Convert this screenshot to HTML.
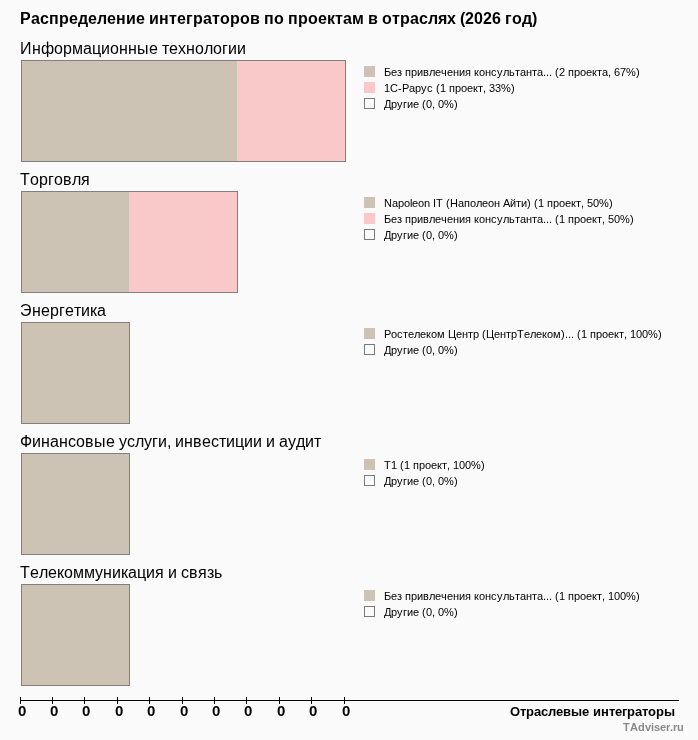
<!DOCTYPE html>
<html><head><meta charset="utf-8"><style>
html,body{margin:0;padding:0;background:#fafafa;width:698px;height:740px;overflow:hidden}
svg{display:block;will-change:transform}
text{font-family:"Liberation Sans",sans-serif}
.b{font-weight:bold}
</style></head><body>
<svg width="698" height="740" viewBox="0 0 698 740" shape-rendering="crispEdges">
<rect width="698" height="740" fill="#fafafa"/>
<text class="b" x="20 31 40 49 59 69 78 88 97 107 116 126 136 145 149 159 169 177 186 193 203 212 220 230 240 250 260 264 274 284 288 298 308 318 327 335 343 352 364 368 378 382 392 400 410 419 428 438 447 456 460 465 474 483 492 501 505 512 522 532" y="24" font-size="16" fill="#000">Распределение интеграторов по проектам в отраслях (2026 год)</text>
<text class="r" x="20 32 41 54 63 72 83 92 101 110 119 128 137 149 158 162 169 178 186 195 204 213 222 228 237" y="54" font-size="16" fill="#000">Информационные технологии</text>
<rect x="22" y="61" width="215" height="100" fill="#cdc3b5"/>
<rect x="237" y="61" width="108" height="100" fill="#f9c8c8"/>
<rect x="21.5" y="60.5" width="324" height="101" fill="none" stroke="#808080"/>
<rect x="364" y="66" width="11" height="11" fill="#cdc3b5"/>
<text class="r" x="384 391 397 402 405 411 417 423 429 435 441 447 453 459 465 471 474 479 485 491 497 503 509 515 520 526 532 537 543 546 549 552 555 559 565 568 574 580 586 592 597 602 608 611 614 620 626 636" y="76" font-size="11" fill="#000">Без привлечения консультанта... (2 проекта, 67%)</text>
<rect x="364" y="82" width="11" height="11" fill="#f9c8c8"/>
<text class="r" x="384 390 398 402 409 415 421 427 433 436 440 446 449 455 461 467 473 478 483 486 489 495 501 511" y="92" font-size="11" fill="#000">1С-Рарус (1 проект, 33%)</text>
<rect x="364.5" y="98.5" width="10" height="10" fill="none" stroke="#7a7a7a"/>
<text class="r" x="384 391 397 403 407 413 419 422 426 432 435 438 444 454" y="108" font-size="11" fill="#000">Другие (0, 0%)</text>
<text class="r" x="20 30 39 48 54 63 72 81" y="185" font-size="16" fill="#000">Торговля</text>
<rect x="22" y="192" width="107" height="100" fill="#cdc3b5"/>
<rect x="129" y="192" width="108" height="100" fill="#f9c8c8"/>
<rect x="21.5" y="191.5" width="216" height="101" fill="none" stroke="#808080"/>
<rect x="364" y="197" width="11" height="11" fill="#cdc3b5"/>
<text class="r" x="384 392 398 404 410 412 418 424 430 433 436 443 446 450 458 464 470 476 482 488 494 500 503 510 516 521 527 531 534 538 544 547 553 559 565 571 576 581 584 587 593 599 609" y="207" font-size="11" fill="#000">Napoleon IT (Наполеон Айти) (1 проект, 50%)</text>
<rect x="364" y="213" width="11" height="11" fill="#f9c8c8"/>
<text class="r" x="384 391 397 402 405 411 417 423 429 435 441 447 453 459 465 471 474 479 485 491 497 503 509 515 520 526 532 537 543 546 549 552 555 559 565 568 574 580 586 592 597 602 605 608 614 620 630" y="223" font-size="11" fill="#000">Без привлечения консультанта... (1 проект, 50%)</text>
<rect x="364.5" y="229.5" width="10" height="10" fill="none" stroke="#7a7a7a"/>
<text class="r" x="384 391 397 403 407 413 419 422 426 432 435 438 444 454" y="239" font-size="11" fill="#000">Другие (0, 0%)</text>
<text class="r" x="20 32 41 50 59 65 74 81 90 97" y="316" font-size="16" fill="#000">Энергетика</text>
<rect x="22" y="323" width="107" height="100" fill="#cdc3b5"/>
<rect x="21.5" y="322.5" width="108" height="101" fill="none" stroke="#808080"/>
<rect x="364" y="328" width="11" height="11" fill="#cdc3b5"/>
<text class="r" x="384 391 397 403 408 414 420 426 431 437 445 448 456 462 468 473 479 482 486 494 500 506 511 517 524 530 536 542 547 553 561 565 568 571 574 577 581 587 590 596 602 608 614 619 624 627 630 636 642 648 658" y="338" font-size="11" fill="#000">Ростелеком Центр (ЦентрТелеком)... (1 проект, 100%)</text>
<rect x="364.5" y="344.5" width="10" height="10" fill="none" stroke="#7a7a7a"/>
<text class="r" x="384 391 397 403 407 413 419 422 426 432 435 438 444 454" y="354" font-size="11" fill="#000">Другие (0, 0%)</text>
<text class="r" x="20 32 41 50 59 68 76 85 94 106 115 119 127 135 144 152 158 167 171 175 184 193 202 211 219 226 235 244 253 262 266 275 279 288 296 305 314" y="447" font-size="16" fill="#000">Финансовые услуги, инвестиции и аудит</text>
<rect x="22" y="454" width="107" height="100" fill="#cdc3b5"/>
<rect x="21.5" y="453.5" width="108" height="101" fill="none" stroke="#808080"/>
<rect x="364" y="459" width="11" height="11" fill="#cdc3b5"/>
<text class="r" x="384 391 397 400 404 410 413 419 425 431 437 442 447 450 453 459 465 471 481" y="469" font-size="11" fill="#000">Т1 (1 проект, 100%)</text>
<rect x="364.5" y="475.5" width="10" height="10" fill="none" stroke="#7a7a7a"/>
<text class="r" x="384 391 397 403 407 413 419 422 426 432 435 438 444 454" y="485" font-size="11" fill="#000">Другие (0, 0%)</text>
<text class="r" x="20 30 39 48 57 64 73 84 95 103 112 121 128 137 146 155 164 168 177 181 189 198 207 214" y="578" font-size="16" fill="#000">Телекоммуникация и связь</text>
<rect x="22" y="585" width="107" height="100" fill="#cdc3b5"/>
<rect x="21.5" y="584.5" width="108" height="101" fill="none" stroke="#808080"/>
<rect x="364" y="590" width="11" height="11" fill="#cdc3b5"/>
<text class="r" x="384 391 397 402 405 411 417 423 429 435 441 447 453 459 465 471 474 479 485 491 497 503 509 515 520 526 532 537 543 546 549 552 555 559 565 568 574 580 586 592 597 602 605 608 614 620 626 636" y="600" font-size="11" fill="#000">Без привлечения консультанта... (1 проект, 100%)</text>
<rect x="364.5" y="606.5" width="10" height="10" fill="none" stroke="#7a7a7a"/>
<text class="r" x="384 391 397 403 407 413 419 422 426 432 435 438 444 454" y="616" font-size="11" fill="#000">Другие (0, 0%)</text>
<rect x="21" y="700" width="658" height="1" fill="#000"/>
<rect x="20" y="697" width="1" height="7" fill="#000"/>
<text class="b" x="18" y="716" font-size="15" fill="#000">0</text>
<rect x="52" y="697" width="1" height="7" fill="#000"/>
<text class="b" x="50" y="716" font-size="15" fill="#000">0</text>
<rect x="84" y="697" width="1" height="7" fill="#000"/>
<text class="b" x="82" y="716" font-size="15" fill="#000">0</text>
<rect x="117" y="697" width="1" height="7" fill="#000"/>
<text class="b" x="115" y="716" font-size="15" fill="#000">0</text>
<rect x="149" y="697" width="1" height="7" fill="#000"/>
<text class="b" x="147" y="716" font-size="15" fill="#000">0</text>
<rect x="182" y="697" width="1" height="7" fill="#000"/>
<text class="b" x="180" y="716" font-size="15" fill="#000">0</text>
<rect x="214" y="697" width="1" height="7" fill="#000"/>
<text class="b" x="212" y="716" font-size="15" fill="#000">0</text>
<rect x="246" y="697" width="1" height="7" fill="#000"/>
<text class="b" x="244" y="716" font-size="15" fill="#000">0</text>
<rect x="279" y="697" width="1" height="7" fill="#000"/>
<text class="b" x="277" y="716" font-size="15" fill="#000">0</text>
<rect x="311" y="697" width="1" height="7" fill="#000"/>
<text class="b" x="309" y="716" font-size="15" fill="#000">0</text>
<rect x="344" y="697" width="1" height="7" fill="#000"/>
<text class="b" x="342" y="716" font-size="15" fill="#000">0</text>
<text class="b" x="510 520 526 534 541 548 556 563 571 582 589 593 601 609 615 622 627 635 642 648 656 664" y="716" font-size="13" fill="#000">Отраслевые интеграторы</text>
<text class="b" x="623 630 638 645 651 654 660 666 670 673 677" y="731" font-size="11" fill="#888">TAdviser.ru</text>
</svg>
</body></html>
